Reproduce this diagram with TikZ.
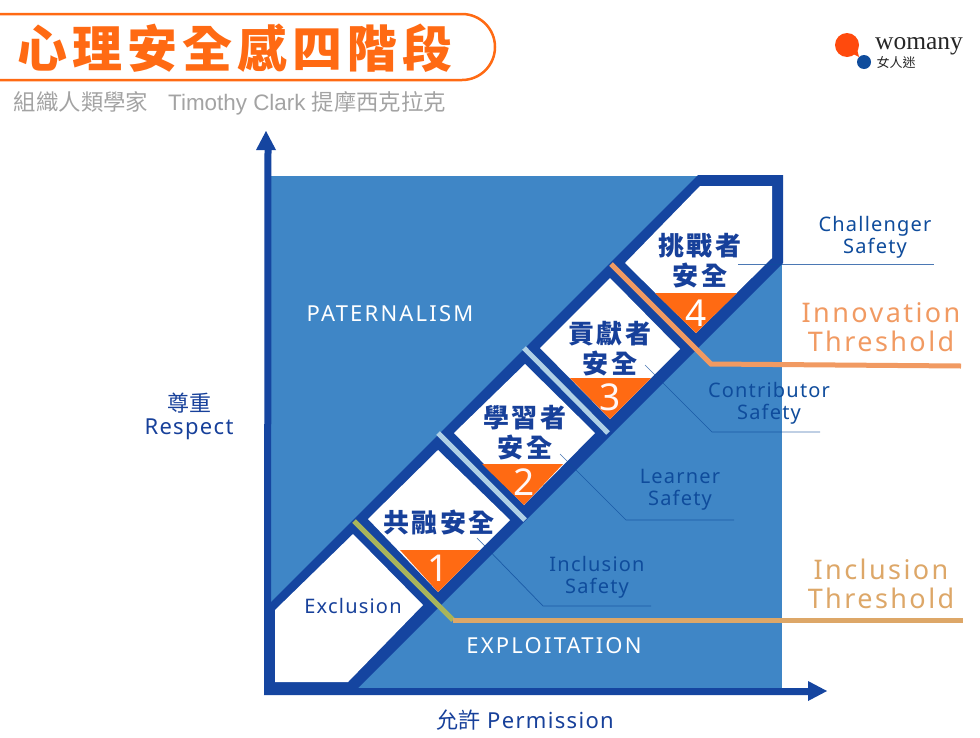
\documentclass[tikz,border=0pt]{standalone}
\usepackage{fontspec}
\setmainfont{Noto Sans}
\newfontfamily\cjk{Noto Sans CJK TC}
\newfontfamily\cjktitle[LetterSpace=10]{Noto Sans CJK TC}
\newfontfamily\cjkcell[LetterSpace=8]{Noto Sans CJK TC}
\newfontfamily\latinsp[LetterSpace=6]{Noto Sans}
\newfontfamily\latinwide[LetterSpace=10]{Noto Sans}
\newfontfamily\latinthresh[LetterSpace=9]{Noto Sans}
\newfontfamily\subfont{Liberation Sans}
\newfontfamily\logofont{Liberation Serif}
\definecolor{fieldblue}{HTML}{3F86C6}
\definecolor{bandblue}{HTML}{1545A0}
\definecolor{inkblue}{HTML}{0F4C9C}
\definecolor{cellink}{HTML}{17409A}
\definecolor{hotorange}{HTML}{FF6A13}
\definecolor{innovation}{HTML}{F19A62}
\definecolor{inclusion}{HTML}{DDA768}
\definecolor{inclusionstart}{HTML}{A9B55A}
\definecolor{divider}{HTML}{AFD0E6}
\definecolor{subgray}{HTML}{A3A3A3}
\tikzset{
  cell/.style={fill=white},
  rung/.style={fill=hotorange},
  celltext/.style={text=cellink,font=\fontsize{26}{26}\selectfont\cjkcell\bfseries,inner sep=0pt},
  rungnum/.style={text=#1,font=\fontsize{37}{37}\selectfont\latinsp,inner sep=0pt},
  safetytext/.style={text=inkblue,font=\fontsize{20}{20}\selectfont\latinsp,inner sep=0pt,anchor=base},
  axistext/.style={text=cellink,font=\fontsize{22}{22}\selectfont\latinsp,inner sep=0pt,anchor=base},
  zonetext/.style={text=white,font=\fontsize{22}{22}\selectfont\latinwide,inner sep=0pt,anchor=base},
  thresholdtext/.style={text=#1,font=\fontsize{27}{27}\selectfont\latinthresh,inner sep=0pt,anchor=base},
  leader/.style={draw=inkblue,line width=.7pt,opacity=.75},
  divideline/.style={draw=divider,line width=5pt},
}
\begin{document}
\begin{tikzpicture}[x=1pt,y=-1pt]
	\useasboundingbox (0,0) rectangle (980,737);
	\fill[white] (0,0) rectangle (980,737);
	% title
	\draw[hotorange,line width=2.5pt] (-5,14) -- (462,14) arc (-90:90:33) -- (-5,80);
	\node[text=hotorange,font=\fontsize{50}{50}\selectfont\cjktitle\bfseries,inner sep=0pt] (title) at (235,48) {心理安全感四階段};
	\node[text=subgray,font=\fontsize{22.4}{23}\selectfont\subfont,inner sep=0pt] (subtitle) at (230,103) {{\cjk 組織人類學家}\hspace{20pt}Timothy Clark {\cjk 提摩西克拉克}};
	% logo
	\fill[hotorange!70!red] (847,45) circle (12);
	\fill[hotorange!70!red] (853,54) -- (859,57) -- (857,49) -- cycle;
	\fill[inkblue] (864,62) circle (7);
	\node[text=black!85,font=\fontsize{25.5}{26}\selectfont\logofont,inner sep=0pt] (logoname) at (919,46) {womany};
	\node[text=black!85,font=\fontsize{13}{13}\selectfont\cjk,inner sep=0pt] (logocjk) at (896,63) {女人迷};
	% field and band
	\fill[fieldblue] (268,176) rectangle (782,690);
	\fill[bandblue] (268,605) -- (698,175) -- (783,175) -- (783,263) -- (356,690) -- (268,690) -- cycle;
	\fill[cell] (275,610) -- (353,534) -- (423,605) -- (348,682) -- (275,682) -- cycle;
	\fill[cell] (368,519) -- (438,450) -- (510,520) -- (438,592) -- cycle;
	\fill[cell] (454,433) -- (525,364) -- (595,433) -- (524,505) -- cycle;
	\fill[cell] (540,348) -- (610,278) -- (680,349) -- (610,419) -- cycle;
	\fill[cell] (625,263) -- (700,186) -- (772,186) -- (772,258) -- (696,333) -- cycle;
	% rungs
	\fill[rung] (400,550) -- (480,550) -- (438,592) -- cycle;
	\fill[rung] (482,464) -- (563,464) -- (524,505) -- cycle;
	\fill[rung] (570,378) -- (651,378) -- (610,419) -- cycle;
	\fill[rung] (655,293) -- (737,293) -- (696,333) -- cycle;
	\node[rungnum=white!88!pink] (num1) at (438,568) {1};
	\node[rungnum=white!88!pink] (num2) at (524,482) {2};
	\node[rungnum=white!88!pink] (num3) at (610,397) {3};
	\node[rungnum=white] (num4) at (696,313) {4};
	% dividers
	\coordinate (div1a) at (438,433);
	\coordinate (div1b) at (525,520);
	\coordinate (div2a) at (524,348);
	\coordinate (div2b) at (608,433);
	\draw[divideline] (div1a) -- (div1b);
	\draw[divideline] (div2a) -- (div2b);
	% leaders
	\coordinate (lead1a) at (477,538);
	\coordinate (lead1b) at (543,606);
	\coordinate (lead1c) at (651,606);
	\coordinate (lead2a) at (560,454);
	\coordinate (lead2b) at (626,520);
	\coordinate (lead2c) at (734,520);
	\coordinate (lead3a) at (645,365);
	\coordinate (lead3b) at (712,432);
	\coordinate (lead3c) at (820,432);
	\coordinate (lead4a) at (738,264);
	\coordinate (lead4b) at (934,264);
	\draw[leader] (lead1a) -- (lead1b) -- (lead1c);
	\draw[leader] (lead2a) -- (lead2b) -- (lead2c);
	\draw[leader] (lead3a) -- (lead3b) -- (lead3c);
	\draw[leader] (lead4a) -- (lead4b);
	% thresholds
	\coordinate (incl1) at (354,521);
	\coordinate (incl2) at (453,620);
	\coordinate (incl3) at (963,620);
	\coordinate (inno1) at (611,264);
	\coordinate (inno2) at (711,364);
	\coordinate (inno3) at (961,366);
	\draw[inclusionstart,line width=5pt] (incl1) -- (incl2);
	\draw[inclusion,line width=5pt] (incl2) -- (incl3);
	\draw[innovation,line width=5pt,line join=miter] (inno1) -- (inno2) -- (inno3);
	% axes
	\coordinate (origin) at (267.5,691.5);
	\coordinate (ytip) at (266,131);
	\coordinate (xtip) at (827,691);
	\draw[bandblue,line width=7pt,line cap=rect] (268,150) -- (origin) -- (810,691.5);
	\fill[bandblue] (ytip) -- (256,150) -- (276,150) -- cycle;
	\fill[bandblue] (xtip) -- (808,681) -- (808,701) -- cycle;
	% labels
	\node[celltext] (cell1) at (439,522) {共融安全};
	\node[celltext] (cell2a) at (525,418) {學習者};
	\node[celltext] (cell2b) at (525,447) {安全};
	\node[celltext] (cell3a) at (610,334) {貢獻者};
	\node[celltext] (cell3b) at (610,363) {安全};
	\node[celltext] (cell4a) at (700,246) {挑戰者};
	\node[celltext] (cell4b) at (700,275) {安全};
	\node[safetytext,text=cellink] (exclusion) at (353,613) {Exclusion};
	\node[safetytext] (safe1a) at (597,571) {Inclusion};
	\node[safetytext] (safe1b) at (597,593) {Safety};
	\node[safetytext] (safe2a) at (680,483) {Learner};
	\node[safetytext] (safe2b) at (680,505) {Safety};
	\node[safetytext] (safe3a) at (769,397) {Contributor};
	\node[safetytext] (safe3b) at (769,419) {Safety};
	\node[safetytext] (safe4a) at (875,231) {Challenger};
	\node[safetytext] (safe4b) at (875,253) {Safety};
	\node[zonetext] (paternalism) at (390,321) {PATERNALISM};
	\node[zonetext] (exploitation) at (554,653) {EXPLOITATION};
	\node[thresholdtext=innovation] (inno4) at (881,322) {Innovation};
	\node[thresholdtext=innovation] (inno5) at (881,351) {Threshold};
	\node[thresholdtext=inclusion] (incl4) at (881,579) {Inclusion};
	\node[thresholdtext=inclusion] (incl5) at (881,608) {Threshold};
	\node[axistext] (respect1) at (189,411) {\cjk 尊重};
	\node[axistext] (respect2) at (189,434) {Respect};
	\node[axistext] (permission) at (525,728) {{\cjk 允許} Permission};
\end{tikzpicture}
\end{document}
